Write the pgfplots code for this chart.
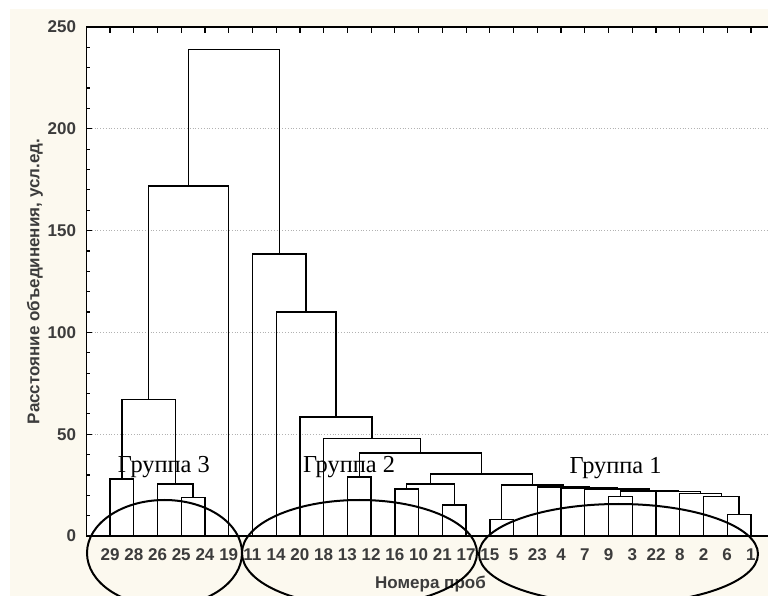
\documentclass[border=0pt]{standalone}
\usepackage{fontspec}
\setmainfont{Liberation Sans}
\newfontfamily\timesf{Liberation Serif}
\usepackage{pgfplots}
\pgfplotsset{compat=1.18}
\definecolor{cream}{RGB}{252,249,239}
\definecolor{lbl}{RGB}{60,60,60}
\tikzset{dend/.style={black, line width=0.7pt}}
\newcommand{\mrg}[5]{\addplot[dend] coordinates {(#1,#2) (#1,#5) (#3,#5) (#3,#4)};}
\begin{document}
\begin{tikzpicture}[x=1pt,y=1pt]
\fill[white] (0,0) rectangle (384,298);
\fill[cream] (5,0) rectangle (384,293.5);
\begin{axis}[
  at={(43.15pt,30pt)}, anchor=south west,
  scale only axis, width=344.2pt, height=254.5pt,
  xmin=-1, xmax=28, ymin=0, ymax=250,
  axis background/.style={fill=white},
  xtick={0,...,27},
  xticklabels={29,28,26,25,24,19,11,14,20,18,13,12,16,10,21,17,15,5,23,4,7,9,3,22,8,2,6,1},
  ytick={0,50,...,250},
  minor ytick={10,20,...,240},
  tick align=inside,
  major tick length=3pt, minor tick length=2pt,
  ymajorgrids, major grid style={densely dotted, gray!60, line width=0.5pt},
  axis line style={line width=0.65pt},
  every tick/.style={black, line width=0.6pt},
  tick label style={font=\fontsize{8.5}{10}\selectfont\bfseries, text=lbl},
  /pgf/number format/assume math mode=true,
  xticklabel style={yshift=-2.6pt, text height=6.3pt, text depth=0pt},
  yticklabel style={xshift=-1.6pt},
  xlabel={Номера проб}, ylabel={Расстояние объединения, усл.ед.},
  label style={font=\fontsize{8.5}{10}\selectfont\bfseries, text=lbl},
  xlabel style={at={(axis description cs:0.5,-0.0943)}, anchor=center},
  ylabel style={at={(axis description cs:-0.0745,0.5)}, anchor=center},
  clip=false,
]
% group 3
\mrg{0}{0}{1}{0}{28}
\mrg{3}{0}{4}{0}{19}
\mrg{2}{0}{3.5}{19}{25.5}
\mrg{0.5}{28}{2.75}{25.5}{67}
\mrg{1.625}{67}{5}{0}{172}
% group 2
\mrg{10}{0}{11}{0}{29}
\mrg{12}{0}{13}{0}{23}
\mrg{14}{0}{15}{0}{15.3}
\mrg{12.5}{23}{14.5}{15.3}{25.5}
% group 1
\mrg{16}{0}{17}{0}{8}
\mrg{26}{0}{27}{0}{10.5}
\mrg{25}{0}{26.5}{10.5}{19.5}
\mrg{24}{0}{25.75}{19.5}{21}
\mrg{23}{0}{24.875}{21}{21.8}
\mrg{21}{0}{22}{0}{19.3}
\mrg{21.5}{19.3}{23.9375}{21.8}{22.2}
\mrg{20}{0}{22.719}{22.2}{23.1}
\mrg{19}{0}{21.359}{23.1}{23.6}
\mrg{18}{0}{20.180}{23.6}{24.1}
\mrg{16.5}{8}{19.090}{24.1}{25}
% joins
\mrg{13.5}{25.5}{17.795}{25}{30.4}
\mrg{10.5}{29}{15.647}{30.4}{40.7}
\mrg{9}{0}{13.074}{40.7}{48}
\mrg{8}{0}{11.037}{48}{58.4}
\mrg{7}{0}{9.518}{58.4}{110}
\mrg{6}{0}{8.259}{110}{138.5}
\mrg{3.3125}{172}{7.130}{138.5}{239}
\node[font=\timesf\fontsize{12.2}{14}\selectfont, anchor=base] at (axis cs:2.27,31.4) {Группа 3};
\node[font=\timesf\fontsize{12.2}{14}\selectfont, anchor=base] at (axis cs:10.07,31.4) {Группа 2};
\node[font=\timesf\fontsize{12.2}{14}\selectfont, anchor=base] at (axis cs:21.3,30.9) {Группа 1};
\end{axis}
\draw[line width=1pt] (82.25pt,21.5pt) ellipse [x radius=38.75pt, y radius=26.5pt];
\draw[line width=1pt] (179.75pt,21.5pt) ellipse [x radius=58.75pt, y radius=26.5pt];
\draw[line width=1pt] (309.25pt,21pt) ellipse [x radius=69.75pt, y radius=25pt];
\pgfresetboundingbox
\useasboundingbox (0,0) rectangle (384,298);
\end{tikzpicture}
\end{document}
